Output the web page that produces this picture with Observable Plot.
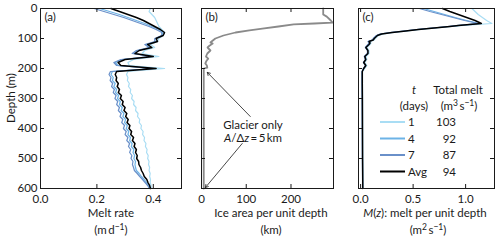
<!DOCTYPE html>
<html><head><meta charset="utf-8">
<script src="https://cdn.jsdelivr.net/npm/d3@7"></script>
<script src="https://cdn.jsdelivr.net/npm/@observablehq/plot@0.6"></script>
<style>
html,body{margin:0;padding:0;background:#fff;}
#chart{position:relative;width:500px;height:242px;overflow:hidden;}
</style></head><body><div id="chart"></div>
<script>
// ---------- data ----------
const depthA = [0,10,20,30,40,50,60,70,80,90,100,110,120,130,140,150,160,170,180,190,200,210,220,230,240,250,260,270,280,290,300,310,320,330,340,350,360,370,380,390,400,410,420,430,440,450,460,470,480,490,500,510,520,530,540,550,560,570,580,590,600];
const melt1 = [0.39,0.385,0.395,0.405,0.41,0.415,0.42,0.43,0.44,0.435,
  0.42,0.415,0.39,0.405,0.37,0.36,0.42,0.33,0.31,0.315,
  0.44,0.31,0.305,0.31,0.308,0.315,0.312,0.32,0.318,0.326,
  0.323,0.332,0.33,0.339,0.337,0.346,0.344,0.352,0.35,0.358,
  0.356,0.364,0.362,0.369,0.367,0.374,0.372,0.378,0.376,0.382,
  0.38,0.385,0.383,0.387,0.385,0.389,0.387,0.39,0.389,0.392,0.393];
const melt4 = [0.21,0.245,0.28,0.31,0.34,0.37,0.395,0.42,0.435,0.43,
  0.41,0.41,0.375,0.39,0.345,0.33,0.395,0.29,0.265,0.275,
  0.40,0.255,0.25,0.258,0.255,0.265,0.26,0.27,0.266,0.277,
  0.273,0.283,0.28,0.29,0.286,0.296,0.292,0.302,0.298,0.308,
  0.304,0.313,0.31,0.319,0.316,0.325,0.322,0.331,0.328,0.334,
  0.331,0.337,0.335,0.337,0.34,0.35,0.358,0.368,0.376,0.384,0.388];
const melt7 = [0.19,0.225,0.26,0.295,0.325,0.355,0.385,0.41,0.43,0.43,
  0.405,0.405,0.37,0.385,0.34,0.325,0.39,0.285,0.26,0.27,
  0.40,0.248,0.243,0.25,0.247,0.256,0.252,0.262,0.258,0.268,
  0.264,0.274,0.27,0.28,0.276,0.286,0.282,0.292,0.288,0.298,
  0.294,0.304,0.3,0.31,0.306,0.316,0.312,0.32,0.316,0.324,
  0.321,0.328,0.326,0.33,0.333,0.343,0.352,0.362,0.371,0.38,0.386];
const meltAvg = [0.25,0.28,0.31,0.34,0.365,0.385,0.405,0.425,0.44,0.435,
  0.41,0.415,0.38,0.395,0.35,0.335,0.40,0.30,0.275,0.285,
  0.41,0.27,0.265,0.27,0.268,0.276,0.272,0.28,0.276,0.287,
  0.283,0.293,0.29,0.3,0.296,0.306,0.302,0.311,0.307,0.317,
  0.314,0.323,0.32,0.33,0.326,0.335,0.332,0.34,0.337,0.343,
  0.341,0.348,0.349,0.355,0.358,0.364,0.368,0.377,0.381,0.387,0.39];

const depthB = [0,10,20,27,40,47,50,53,60,67,73,80,90,100,110,113,117,125,130,140,150,160,167,175,183,190,197,200,210,300,400,500,600];
const iceArea = [272,272,272,280,289,293,252,206,172,136,107,76,49,31,22.5,20,25,17,13.5,20,13,10,15,11,8.5,12,13,5,5,5,5,5,5];

const depthC = [0,10,20,30,40,50,57,60,65,70,75,80,85,90,100,105,110,115,120,130,140,150,160,170,180,190,200,210,250,300,400,500,600];
const mz1 = [1.06,1.09,1.12,1.16,1.2,1.25,0.95,0.87,0.72,0.57,0.45,0.32,0.22,0.17,0.14,0.13,0.09,0.1,0.09,0.06,0.08,0.08,0.05,0.06,0.04,0.06,0.04,0.018,0.018,0.019,0.02,0.021,0.022];
const mz4 = [0.6,0.7,0.8,0.9,1.01,1.13,0.92,0.84,0.69,0.54,0.42,0.29,0.19,0.155,0.125,0.115,0.075,0.085,0.075,0.048,0.068,0.068,0.038,0.048,0.028,0.048,0.028,0.015,0.015,0.016,0.017,0.018,0.02];
const mz7 = [0.56,0.66,0.77,0.88,0.99,1.12,0.91,0.83,0.68,0.53,0.41,0.28,0.185,0.15,0.12,0.11,0.07,0.08,0.07,0.045,0.065,0.065,0.035,0.045,0.026,0.045,0.026,0.014,0.014,0.015,0.016,0.017,0.019];
const mzAvg = [0.78,0.85,0.93,1.01,1.09,1.15,0.93,0.85,0.7,0.55,0.43,0.3,0.2,0.16,0.13,0.12,0.08,0.09,0.08,0.05,0.07,0.07,0.04,0.05,0.03,0.05,0.03,0.016,0.016,0.017,0.018,0.019,0.021];

const seriesLabels = ["1","4","7","Avg"];
const totalMelt = [103,92,87,94];
const depthTicks = [0,100,200,300,400,500,600];
const ticksA = [0,0.2,0.4];
const ticksB = [0,100,200];
const ticksC = [0,0.5,1.0];
// annotation arrows in panel (b): [km, m] from -> to
const arrowsB = [{x1:109,y1:360,x2:13,y2:213},{x1:91,y1:450,x2:8.6,y2:597}];

// ---------- style ----------
const colors = ["#a9ddf4","#6cb3e6","#6a90c9","#000000"];
const widths = [1.2,1.2,1.2,1.5];
const FONT = "Lato, 'Noto Sans', 'DejaVu Sans', sans-serif";
const FS = 11.5;
const INK = "#1a1a1a";
const H = 242, MT = 8, MB = 54;
const root = document.getElementById("chart");

function rows(depths, values){ return depths.map((d,i)=>({depth:d, value:values[i]})); }

function panel({left, width, ml, mr, xDomain, xTicks, fmt, showY, marks, letter}) {
  const plotW = width - ml - mr, plotH = H - MT - MB;
  const chart = Plot.plot({
    width, height: H, marginLeft: ml, marginRight: mr, marginTop: MT, marginBottom: MB,
    style: {fontFamily: FONT, fontSize: FS + "px", color: INK, background: "transparent", overflow: "visible"},
    x: {domain: xDomain},
    y: showY ? {domain: [0,600], reverse: true} : {domain: [0,600], reverse: true, axis: null},
    marks: [
      ...marks,
      Plot.frame({stroke: INK}),
      Plot.tickX(xTicks, {x: d=>d, insetTop: plotH - 4, stroke: INK}),
      Plot.tickX(xTicks, {x: d=>d, insetBottom: plotH - 4, stroke: INK}),
      Plot.tickY(depthTicks, {y: d=>d, insetRight: plotW - 4, stroke: INK}),
      Plot.tickY(depthTicks, {y: d=>d, insetLeft: plotW - 4, stroke: INK}),
      Plot.axisX({ticks: xTicks, tickSize: 0, tickPadding: 6, tickFormat: fmt, label: null}),
      showY ? Plot.axisY({ticks: depthTicks, tickSize: 0, tickPadding: 3, label: null}) : null,
      Plot.text([letter], {text: d=>d, frameAnchor: "top-left", textAnchor: "start", lineAnchor: "middle", dx: 4, dy: 9, fill: INK})
    ]
  });
  chart.style.position = "absolute";
  chart.style.left = left + "px";
  chart.style.top = "0px";
  root.appendChild(chart);
  return chart;
}

const seriesA = [melt1, melt4, melt7, meltAvg];
const seriesC = [mz1, mz4, mz7, mzAvg];

panel({left: 0, width: 185, ml: 40, mr: 4, xDomain: [0, 0.5], xTicks: ticksA, fmt: d3.format(".1f"), showY: true, letter: "(a)",
  marks: seriesA.map((s,i)=>Plot.line(rows(depthA, s), {x:"value", y:"depth", stroke: colors[i], strokeWidth: widths[i]}))});

panel({left: 186, width: 150, ml: 15, mr: 3, xDomain: [0, 295], xTicks: ticksB, fmt: d3.format("d"), showY: false, letter: "(b)",
  marks: [
    Plot.line(rows(depthB, iceArea), {x:"value", y:"depth", stroke: "#8a8a8a", strokeWidth: 1.8}),
    Plot.arrow(arrowsB, {x1:"x1", y1:"y1", x2:"x2", y2:"y2", stroke: INK, strokeWidth: 0.8, headLength: 6})
  ]});

panel({left: 343, width: 157, ml: 15, mr: 6, xDomain: [-0.02, 1.275], xTicks: ticksC, fmt: d3.format(".1f"), showY: false, letter: "(c)",
  marks: seriesC.map((s,i)=>Plot.line(rows(depthC, s), {x:"value", y:"depth", stroke: colors[i], strokeWidth: widths[i]}))});

// ---------- overlay text: axis titles, annotation, legend ----------
const ov = d3.select(root).append("svg")
  .attr("width", 500).attr("height", 242)
  .style("position","absolute").style("left","0px").style("top","0px")
  .attr("font-family", FONT).attr("font-size", FS).attr("fill", INK);

function txt(x, y, html, anchor="middle", rotate=0) {
  const t = ov.append("text").attr("x", x).attr("y", y).attr("dy", "0.35em").attr("text-anchor", anchor).html(html);
  if (rotate) t.attr("transform", `rotate(${rotate},${x},${y})`);
  return t;
}
const sup = (s) => `<tspan dy="-4" font-size="8.5">${s}</tspan><tspan dy="4">`;

txt(11, 98, "Depth (m)", "middle", -90);
txt(111, 213, "Melt rate");
txt(111, 230, `(m\u2009d${sup("\u22121")})</tspan>`);
txt(271, 213, "Ice area per unit depth");
txt(271, 230, "(km)");
txt(425, 213, `<tspan font-style="italic">M</tspan>(<tspan font-style="italic">z</tspan>): melt per unit depth`);
txt(428, 230, `(m${sup("2")}\u2009s${sup("\u22121")})</tspan></tspan>`);

txt(253, 125, "Glacier only");
txt(253, 138, `<tspan font-style="italic">A</tspan>/\u0394<tspan font-style="italic">z</tspan>\u2009=\u20095\u2009km`);

// legend
txt(414, 90, `<tspan font-style="italic">t</tspan>`);
txt(414, 106, "(days)");
txt(458, 90, "Total melt");
txt(459, 106, `(m${sup("3")}\u2009s${sup("\u22121")})</tspan></tspan>`);
const rowY = [122, 138.5, 155, 171.5];
seriesLabels.forEach((lab, i) => {
  ov.append("line").attr("x1", 380).attr("x2", 405).attr("y1", rowY[i]).attr("y2", rowY[i])
    .attr("stroke", colors[i]).attr("stroke-width", 2);
  txt(408, rowY[i], lab, "start");
  txt(456, rowY[i], String(totalMelt[i]), "end");
});
</script>
</body></html>
